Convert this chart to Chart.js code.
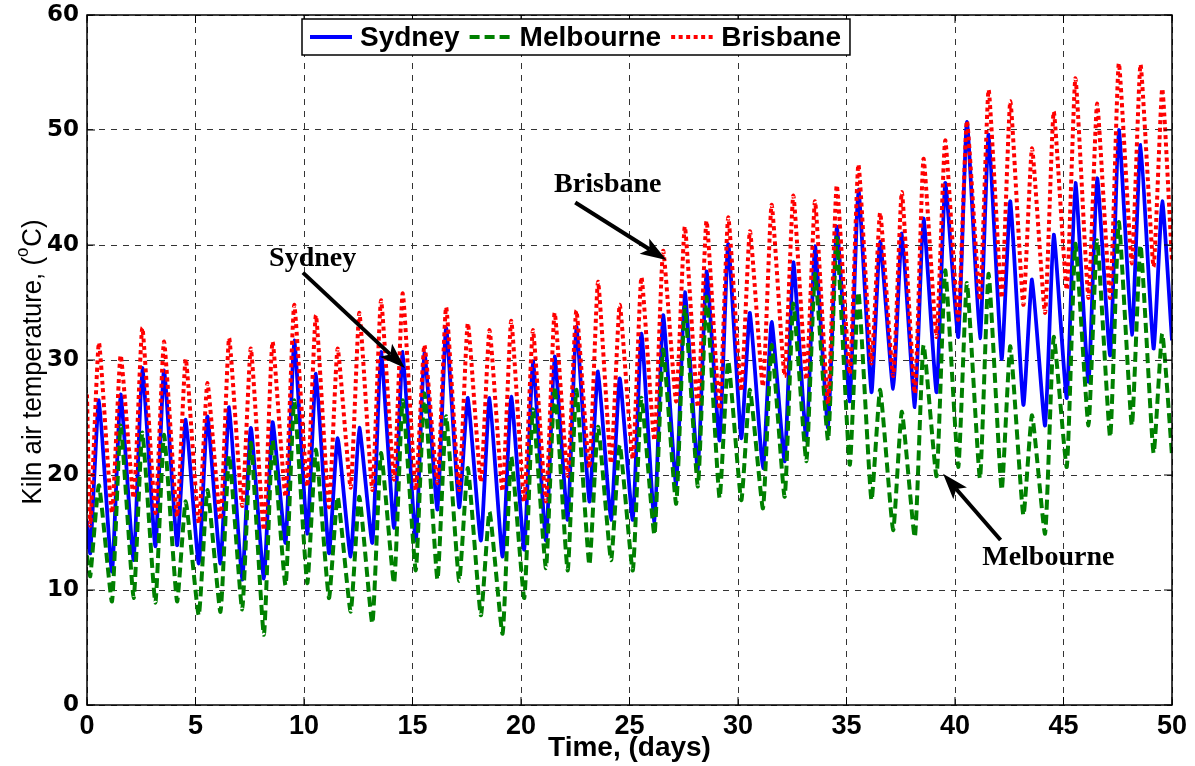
<!DOCTYPE html>
<html>
<head>
<meta charset="utf-8">
<script src="https://cdn.jsdelivr.net/npm/chart.js@4.4.1/dist/chart.umd.min.js"></script>
<style>
  html, body { margin: 0; padding: 0; background: #fff; }
  #wrap { width: 1195px; height: 766px; }
</style>
</head>
<body>
<div id="wrap"><canvas id="c" width="1195" height="766"></canvas></div>
<script>
// Kiln air temperature over 50 days for three sites.
// Each day has one minimum (early in the day) and one maximum (afternoon).
const cities = ['Sydney', 'Melbourne', 'Brisbane'];
const xTicks = [0, 5, 10, 15, 20, 25, 30, 35, 40, 45, 50];
const yTicks = [0, 10, 20, 30, 40, 50, 60];

// fraction of the day at which the daily minimum / maximum occurs
const minAt = 0.15;
const maxAt = 0.55;

// value at day 0 and at day 50
const sydneyEnds    = [16.0, 31.7];
const melbourneEnds = [13.0, 21.7];
const brisbaneEnds  = [27.0, 38.5];

const sydneyMin = [13.2, 11.6, 12.6, 13.8, 13.9, 12.3, 12.3, 10.9, 11.0, 14.1,
                   14.9, 13.2, 12.9, 14.1, 15.4, 14.3, 17.0, 17.2, 14.3, 12.9,
                   13.5, 14.3, 16.1, 17.7, 16.1, 16.1, 15.9, 19.1, 20.4, 23.0,
                   23.2, 20.6, 21.2, 23.0, 24.1, 26.4, 27.2, 27.5, 25.9, 27.2,
                   32.0, 31.9, 30.1, 26.1, 24.3, 26.7, 28.1, 30.4, 32.2, 31.0];
const sydneyMax = [26.5, 27.0, 29.3, 29.1, 24.8, 25.1, 25.9, 24.1, 24.6, 31.7,
                   28.8, 23.2, 24.1, 30.7, 30.7, 30.6, 32.8, 26.7, 26.7, 26.8,
                   29.9, 30.3, 32.9, 29.0, 28.4, 32.3, 33.9, 35.9, 37.7, 40.1,
                   34.1, 33.3, 38.5, 39.9, 41.6, 44.8, 40.3, 41.0, 42.3, 45.4,
                   50.7, 49.6, 43.8, 37.0, 40.9, 45.4, 45.8, 50.0, 48.7, 43.8];

const melbourneMin = [11.2, 9.0, 9.3, 8.9, 9.0, 7.8, 8.1, 8.3, 6.1, 10.4,
                      10.6, 9.3, 8.1, 7.1, 10.6, 11.7, 10.9, 10.8, 7.8, 6.2,
                      9.3, 11.9, 11.7, 12.2, 12.6, 11.7, 14.8, 17.5, 19.0, 18.0,
                      17.8, 17.1, 18.1, 21.2, 23.0, 20.9, 17.8, 15.2, 14.6, 19.9,
                      20.7, 19.7, 18.7, 16.5, 14.9, 20.7, 24.3, 23.3, 24.3, 21.9];
const melbourneMax = [19.1, 24.3, 23.7, 23.5, 17.7, 18.7, 21.7, 22.8, 23.0, 26.5,
                      22.2, 18.1, 18.1, 21.9, 26.5, 27.1, 25.1, 20.6, 16.8, 21.6,
                      25.7, 27.7, 27.4, 24.2, 22.6, 26.7, 30.9, 34.6, 35.5, 29.9,
                      27.4, 31.3, 34.9, 37.5, 40.6, 35.9, 27.4, 25.5, 31.3, 37.8,
                      36.7, 37.5, 31.2, 25.2, 32.0, 40.1, 40.4, 42.0, 40.0, 32.3];

const brisbaneMin = [15.6, 16.7, 18.0, 16.7, 16.4, 15.8, 16.1, 17.3, 15.2, 18.1,
                     19.0, 17.2, 18.9, 18.7, 19.6, 18.7, 19.3, 18.7, 19.4, 18.6,
                     17.7, 17.7, 19.9, 20.6, 21.0, 21.4, 23.0, 26.4, 25.9, 25.7,
                     27.3, 27.7, 28.6, 28.3, 26.2, 28.8, 29.7, 28.6, 27.1, 32.0,
                     33.5, 35.2, 35.4, 34.8, 34.1, 36.1, 35.4, 35.4, 38.4, 38.1];
const brisbaneMax = [31.5, 30.4, 32.8, 31.6, 30.1, 28.0, 31.9, 31.0, 31.6, 34.8,
                     33.9, 31.0, 34.1, 35.2, 35.8, 31.3, 34.6, 33.2, 32.6, 33.4,
                     32.6, 34.1, 34.3, 36.8, 34.8, 37.2, 39.5, 41.6, 42.1, 42.4,
                     41.2, 43.5, 44.3, 43.8, 45.2, 47.0, 42.8, 44.6, 47.5, 49.1,
                     50.8, 53.5, 52.5, 48.4, 51.6, 54.5, 52.3, 55.8, 55.7, 53.6];

// labelled arrows: text anchor, arrow tail, arrow tip (all in data units)
const notes = [
  { text: 'Sydney',    at: [10.4, 38.2], from: [9.95, 37.6],  to: [14.65, 29.3] },
  { text: 'Brisbane',  at: [24.0, 44.6], from: [22.5, 43.7],  to: [26.7, 38.7] },
  { text: 'Melbourne', at: [44.3, 12.2], from: [42.1, 14.35], to: [39.45, 20.1] }
];

function dailyPoints(ends, mins, maxs) {
  const pts = [{ x: xTicks[0], y: ends[0] }];
  for (let d = 0; d < mins.length; d++) {
    pts.push({ x: d + minAt, y: mins[d] });
    pts.push({ x: d + maxAt, y: maxs[d] });
  }
  pts.push({ x: xTicks[xTicks.length - 1], y: ends[1] });
  return pts;
}

// plot frame with inward tick marks
const framePlugin = {
  id: 'frame',
  afterDatasetsDraw(chart) {
    const { ctx, chartArea: a, scales } = chart;
    ctx.save();
    ctx.strokeStyle = '#000';
    ctx.lineWidth = 1.5;
    ctx.setLineDash([]);
    ctx.strokeRect(a.left, a.top, a.right - a.left, a.bottom - a.top);
    ctx.lineWidth = 1;
    const t = 8;
    ctx.beginPath();
    xTicks.forEach(v => {
      const px = scales.x.getPixelForValue(v);
      ctx.moveTo(px, a.bottom); ctx.lineTo(px, a.bottom - t);
      ctx.moveTo(px, a.top); ctx.lineTo(px, a.top + t);
    });
    yTicks.forEach(v => {
      const py = scales.y.getPixelForValue(v);
      ctx.moveTo(a.left, py); ctx.lineTo(a.left + t, py);
      ctx.moveTo(a.right, py); ctx.lineTo(a.right - t, py);
    });
    ctx.stroke();
    ctx.restore();
  }
};

// boxed legend inside the top of the plot
const boxLegendPlugin = {
  id: 'boxLegend',
  afterDatasetsDraw(chart) {
    const { ctx, chartArea: a } = chart;
    const sets = chart.data.datasets;
    ctx.save();
    ctx.font = 'bold 28px "Liberation Sans", Arial, sans-serif';
    const sample = 42, gapIn = 8, gapOut = 10, padL = 8, padR = 9;
    let w = padL + padR;
    sets.forEach((ds, i) => {
      w += sample + gapIn + ctx.measureText(ds.label).width + (i < sets.length - 1 ? gapOut : 0);
    });
    const left = a.left + 215, top = a.top + 4, h = 36;
    ctx.fillStyle = '#fff';
    ctx.fillRect(left, top, w, h);
    ctx.strokeStyle = '#000';
    ctx.lineWidth = 1.5;
    ctx.strokeRect(left, top, w, h);
    const cy = top + h / 2;
    let x = left + padL;
    sets.forEach(ds => {
      ctx.strokeStyle = ds.borderColor;
      ctx.lineWidth = ds.borderWidth;
      ctx.setLineDash(ds.borderDash || []);
      ctx.lineCap = 'butt';
      ctx.beginPath();
      ctx.moveTo(x, cy); ctx.lineTo(x + sample, cy);
      ctx.stroke();
      ctx.setLineDash([]);
      x += sample + gapIn;
      ctx.fillStyle = '#000';
      ctx.textBaseline = 'middle';
      ctx.textAlign = 'left';
      ctx.fillText(ds.label, x, cy + 1);
      x += ctx.measureText(ds.label).width + gapOut;
    });
    ctx.restore();
  }
};

// arrows with city names
const notesPlugin = {
  id: 'notes',
  afterDatasetsDraw(chart) {
    const { ctx, scales } = chart;
    const X = v => scales.x.getPixelForValue(v);
    const Y = v => scales.y.getPixelForValue(v);
    ctx.save();
    ctx.fillStyle = '#000';
    ctx.strokeStyle = '#000';
    notes.forEach(n => {
      const x0 = X(n.from[0]), y0 = Y(n.from[1]);
      const x1 = X(n.to[0]), y1 = Y(n.to[1]);
      const ang = Math.atan2(y1 - y0, x1 - x0);
      const head = 26, half = 9, notch = 6;
      const c = Math.cos(ang), s = Math.sin(ang);
      const bx = x1 - head * c, by = y1 - head * s;
      ctx.lineWidth = 4;
      ctx.beginPath();
      ctx.moveTo(x0, y0); ctx.lineTo(x1 - (head - notch) * c, y1 - (head - notch) * s);
      ctx.stroke();
      ctx.beginPath();
      ctx.moveTo(x1, y1);
      ctx.lineTo(bx + half * s, by - half * c);
      ctx.lineTo(x1 - (head - notch) * c, y1 - (head - notch) * s);
      ctx.lineTo(bx - half * s, by + half * c);
      ctx.closePath();
      ctx.fill();
      ctx.font = 'bold 28px "Liberation Serif", "Times New Roman", serif';
      ctx.textAlign = 'center';
      ctx.textBaseline = 'alphabetic';
      ctx.fillText(n.text, X(n.at[0]), Y(n.at[1]));
    });
    ctx.restore();
  }
};

// rotated y-axis title with a superscript degree mark
const yTitlePlugin = {
  id: 'yTitle',
  afterDraw(chart) {
    const { ctx, chartArea: a } = chart;
    const main1 = 'Kiln air temperature, (';
    const sup = 'o';
    const main2 = 'C)';
    const big = '26px "Liberation Sans Narrow", "Liberation Sans", Arial, sans-serif';
    const small = '17px "Liberation Sans Narrow", "Liberation Sans", Arial, sans-serif';
    ctx.save();
    ctx.font = big;
    const w1 = ctx.measureText(main1).width, w3 = ctx.measureText(main2).width;
    ctx.font = small;
    const w2 = ctx.measureText(sup).width + 1;
    const total = w1 + w2 + w3;
    const target = 285;
    const cx = 41, cy = (a.top + a.bottom) / 2 + 2;
    ctx.translate(cx, cy);
    ctx.rotate(-Math.PI / 2);
    ctx.scale(target / total, 1.08);
    ctx.fillStyle = '#000';
    ctx.textBaseline = 'alphabetic';
    ctx.textAlign = 'left';
    let x = -total / 2;
    ctx.font = big;
    ctx.fillText(main1, x, 0);
    x += w1;
    ctx.font = small;
    ctx.fillText(sup, x, -12);
    x += w2;
    ctx.font = big;
    ctx.fillText(main2, x, 0);
    ctx.restore();
  }
};

const chart = new Chart(document.getElementById('c'), {
  type: 'line',
  data: {
    datasets: [
      {
        label: cities[0],
        data: dailyPoints(sydneyEnds, sydneyMin, sydneyMax),
        borderColor: '#0000ff',
        borderWidth: 3.8,
        order: 2
      },
      {
        label: cities[1],
        data: dailyPoints(melbourneEnds, melbourneMin, melbourneMax),
        borderColor: '#008000',
        borderWidth: 4,
        borderDash: [10, 5],
        order: 1
      },
      {
        label: cities[2],
        data: dailyPoints(brisbaneEnds, brisbaneMin, brisbaneMax),
        borderColor: '#ff0000',
        borderWidth: 4,
        borderDash: [4, 3.5],
        order: 0
      }
    ]
  },
  options: {
    responsive: false,
    animation: false,
    layout: { padding: { top: 15, right: 23, left: 0, bottom: 0 } },
    elements: {
      point: { radius: 0 },
      line: { tension: 0.15, borderCapStyle: 'butt', borderJoinStyle: 'round', fill: false }
    },
    plugins: {
      legend: { display: false },
      tooltip: { enabled: false }
    },
    scales: {
      x: {
        type: 'linear',
        min: xTicks[0],
        max: xTicks[xTicks.length - 1],
        afterBuildTicks: s => { s.ticks = xTicks.map(v => ({ value: v })); },
        afterFit: s => { s.height = 61; s.paddingLeft = 0; s.paddingRight = 0; },
        ticks: {
          color: '#000',
          padding: 5,
          maxRotation: 0,
          autoSkip: false,
          font: { family: '"Liberation Sans", Arial, sans-serif', weight: 'bold', size: 27 }
        },
        grid: { color: '#333', lineWidth: 1, drawTicks: false },
        border: { display: false, dash: [6, 6] },
        title: {
          display: true,
          text: 'Time, (days)',
          color: '#000',
          padding: { top: 0, bottom: 1 },
          font: { family: '"Liberation Sans", Arial, sans-serif', weight: 'bold', size: 28 }
        }
      },
      y: {
        type: 'linear',
        min: yTicks[0],
        max: yTicks[yTicks.length - 1],
        afterBuildTicks: s => { s.ticks = yTicks.map(v => ({ value: v })); },
        afterFit: s => { s.width = 87; s.paddingTop = 0; s.paddingBottom = 0; },
        ticks: {
          color: '#000',
          padding: 8,
          font: { family: '"DejaVu Sans", sans-serif', weight: 'bold', size: 23 }
        },
        grid: { color: '#333', lineWidth: 1, drawTicks: false },
        border: { display: false, dash: [6, 6] }
      }
    }
  },
  plugins: [framePlugin, boxLegendPlugin, notesPlugin, yTitlePlugin]
});
</script>
</body>
</html>
